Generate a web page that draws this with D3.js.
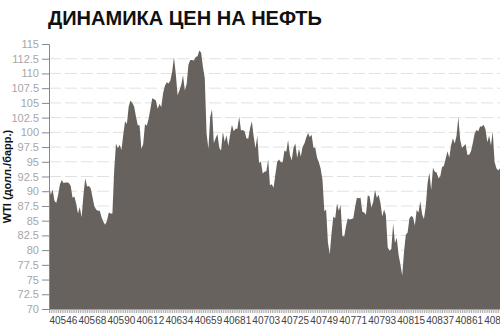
<!DOCTYPE html>
<html>
<head>
<meta charset="utf-8">
<script src="https://cdn.jsdelivr.net/npm/d3@7"></script>
<style>
  body { margin: 0; background: #fff; }
</style>
</head>
<body>
<div id="chart"></div>
<script>
// WTI daily prices, Jan - Dec 2011 (one value per trading day)
var prices = [
  91.0, 89.4, 90.3, 88.4, 88.0, 89.3, 91.1, 91.9, 91.4, 91.5,
  91.5, 91.4, 90.9, 88.9, 89.1, 87.9, 86.2, 87.3, 85.6, 89.3,
  92.2, 90.8, 90.9, 90.5, 89.0, 87.5, 86.9, 86.7, 86.7, 85.6,
  84.8, 84.3, 85.0, 86.4, 86.2, 86.2, 93.6, 98.1, 97.3, 97.9,
  97.0, 99.6, 101.9, 101.4, 104.4, 105.4, 105.0, 104.4, 102.7, 101.2,
  101.2, 97.2, 98.0, 101.4, 101.1, 102.3, 104.0, 105.8, 105.6, 105.4,
  104.0, 104.8, 104.3, 106.7, 107.9, 108.5, 108.3, 108.8, 110.3, 112.8,
  109.9, 106.3, 107.1, 108.1, 109.7, 107.1, 108.2, 111.5, 112.3, 112.3,
  112.2, 112.8, 112.9, 113.9, 113.5, 111.1, 109.2, 99.8, 97.2, 102.6,
  103.9, 98.2, 99.0, 99.7, 97.4, 96.9, 100.1, 98.4, 99.5, 97.7,
  99.6, 101.3, 100.2, 100.6, 100.6, 102.7, 100.3, 100.4, 100.2, 99.0,
  98.9, 100.7, 101.9, 99.3, 97.3, 99.4, 94.8, 95.0, 93.0, 93.3,
  93.4, 95.4, 91.0, 91.2, 90.6, 92.9, 95.0, 95.4, 94.9, 94.9,
  96.9, 96.7, 98.7, 96.2, 95.2, 97.4, 98.1, 95.7, 97.2, 95.9,
  97.5, 98.1, 99.1, 99.9, 99.2, 99.6, 97.4, 97.4, 95.7, 94.9,
  93.8, 91.9, 86.6, 86.9, 81.3, 79.3, 82.9, 85.7, 85.4, 87.9,
  86.7, 87.6, 82.4, 82.3, 84.1, 85.4, 85.2, 85.3, 85.4, 87.3,
  88.9, 88.8, 88.9, 86.5, 86.4, 86.0, 89.3, 89.1, 87.2, 88.2,
  90.2, 88.9, 89.4, 88.0, 85.7, 86.9, 85.9, 80.5, 79.9, 80.2,
  84.5, 81.2, 82.1, 79.2, 77.6, 75.7, 79.7, 82.6, 83.0, 85.4,
  85.8, 85.6, 84.2, 86.8, 86.4, 88.3, 86.1, 85.3, 87.4, 91.3,
  93.2, 90.2, 94.0, 93.3, 93.2, 92.2, 92.5, 94.1, 94.3, 95.5,
  96.8, 95.7, 97.8, 99.0, 98.1, 99.4, 102.6, 98.8, 97.4, 97.7,
  98.0, 96.2, 96.2, 96.8, 98.2, 99.8, 100.4, 100.2, 101.0, 101.0,
  101.3, 100.5, 98.3, 99.4, 97.8, 100.1, 95.0, 93.9, 93.5, 93.9
];

// Category labels (Excel date serials), one every 16 points
var xTickLabels = ['40546', '40568', '40590', '40612', '40634', '40659', '40681', '40703',
                   '40725', '40749', '40771', '40793', '40815', '40837', '40861', '40883'];
var xTickStep = 16;

var yTicks = [70, 72.5, 75, 77.5, 80, 82.5, 85, 87.5, 90, 92.5, 95, 97.5, 100, 102.5, 105, 107.5, 110, 112.5, 115];

var width = 500;
var height = 332;
var plotLeft = 49;
var plotRight = 500;
var plotTop = 44;
var plotBottom = 309;

var svg = d3.select('#chart')
    .append('svg')
    .attr('width', width)
    .attr('height', height)
    .style('font-family', "'Liberation Sans', Arial, sans-serif");

var x = d3.scaleLinear().domain([0, prices.length - 1]).range([plotLeft, plotRight]);
var y = d3.scaleLinear().domain([70, 115]).range([plotBottom, plotTop]);

// Title
svg.append('text')
    .attr('x', 48)
    .attr('y', 25)
    .style('font-size', '20px')
    .style('font-weight', 'bold')
    .attr('fill', '#111')
    .text('ДИНАМИКА ЦЕН НА НЕФТЬ');

// Y axis title
svg.append('text')
    .attr('transform', 'translate(11,' + ((plotTop + plotBottom) / 2) + ') rotate(-90)')
    .attr('text-anchor', 'middle')
    .style('font-size', '11px')
    .style('font-weight', 'bold')
    .attr('fill', '#111')
    .text('WTI (долл./барр.)');

// Dashed gridlines
svg.selectAll('.grid')
    .data(yTicks.filter((t) => t > 70 && t < 115))
    .enter()
    .append('line')
    .attr('x1', plotLeft)
    .attr('x2', plotRight)
    .attr('y1', (d) => y(d))
    .attr('y2', (d) => y(d))
    .attr('stroke', '#e0e0e0')
    .attr('stroke-dasharray', '12,4');

// Bottom axis (a tick for every point, a label every 16)
var xAxis = svg.append('g')
    .attr('transform', 'translate(0,' + plotBottom + ')')
    .call(d3.axisBottom(x)
        .tickValues(d3.range(prices.length))
        .tickSize(4)
        .tickPadding(4)
        .tickFormat((d) => d % xTickStep === 0 ? xTickLabels[d / xTickStep] : ''));
xAxis.select('.domain').attr('stroke', '#999');
xAxis.selectAll('.tick line').attr('stroke', '#aaa');
xAxis.selectAll('.tick text')
    .attr('text-anchor', 'start')
    .attr('fill', '#444')
    .style('font-family', "'Liberation Sans Narrow', 'Arial Narrow', 'Liberation Sans', sans-serif")
    .style('font-size', '10px');

// Area
var area = d3.area()
    .x((d, i) => x(i))
    .y0(y(70))
    .y1((d) => y(d));

svg.append('path')
    .datum(prices)
    .attr('d', area)
    .attr('fill', '#67625d');

// Left axis
var yAxis = svg.append('g')
    .attr('transform', 'translate(' + plotLeft + ',0)')
    .call(d3.axisLeft(y)
        .tickValues(yTicks)
        .tickSize(7)
        .tickPadding(3)
        .tickFormat((d) => d));
yAxis.select('.domain').attr('stroke', '#888');
yAxis.selectAll('.tick line').attr('stroke', '#888');
yAxis.selectAll('.tick text')
    .attr('fill', '#a6a6a6')
    .style('font-family', "'Liberation Sans Narrow', 'Arial Narrow', 'Liberation Sans', sans-serif")
    .style('font-size', '11px');
</script>
</body>
</html>
